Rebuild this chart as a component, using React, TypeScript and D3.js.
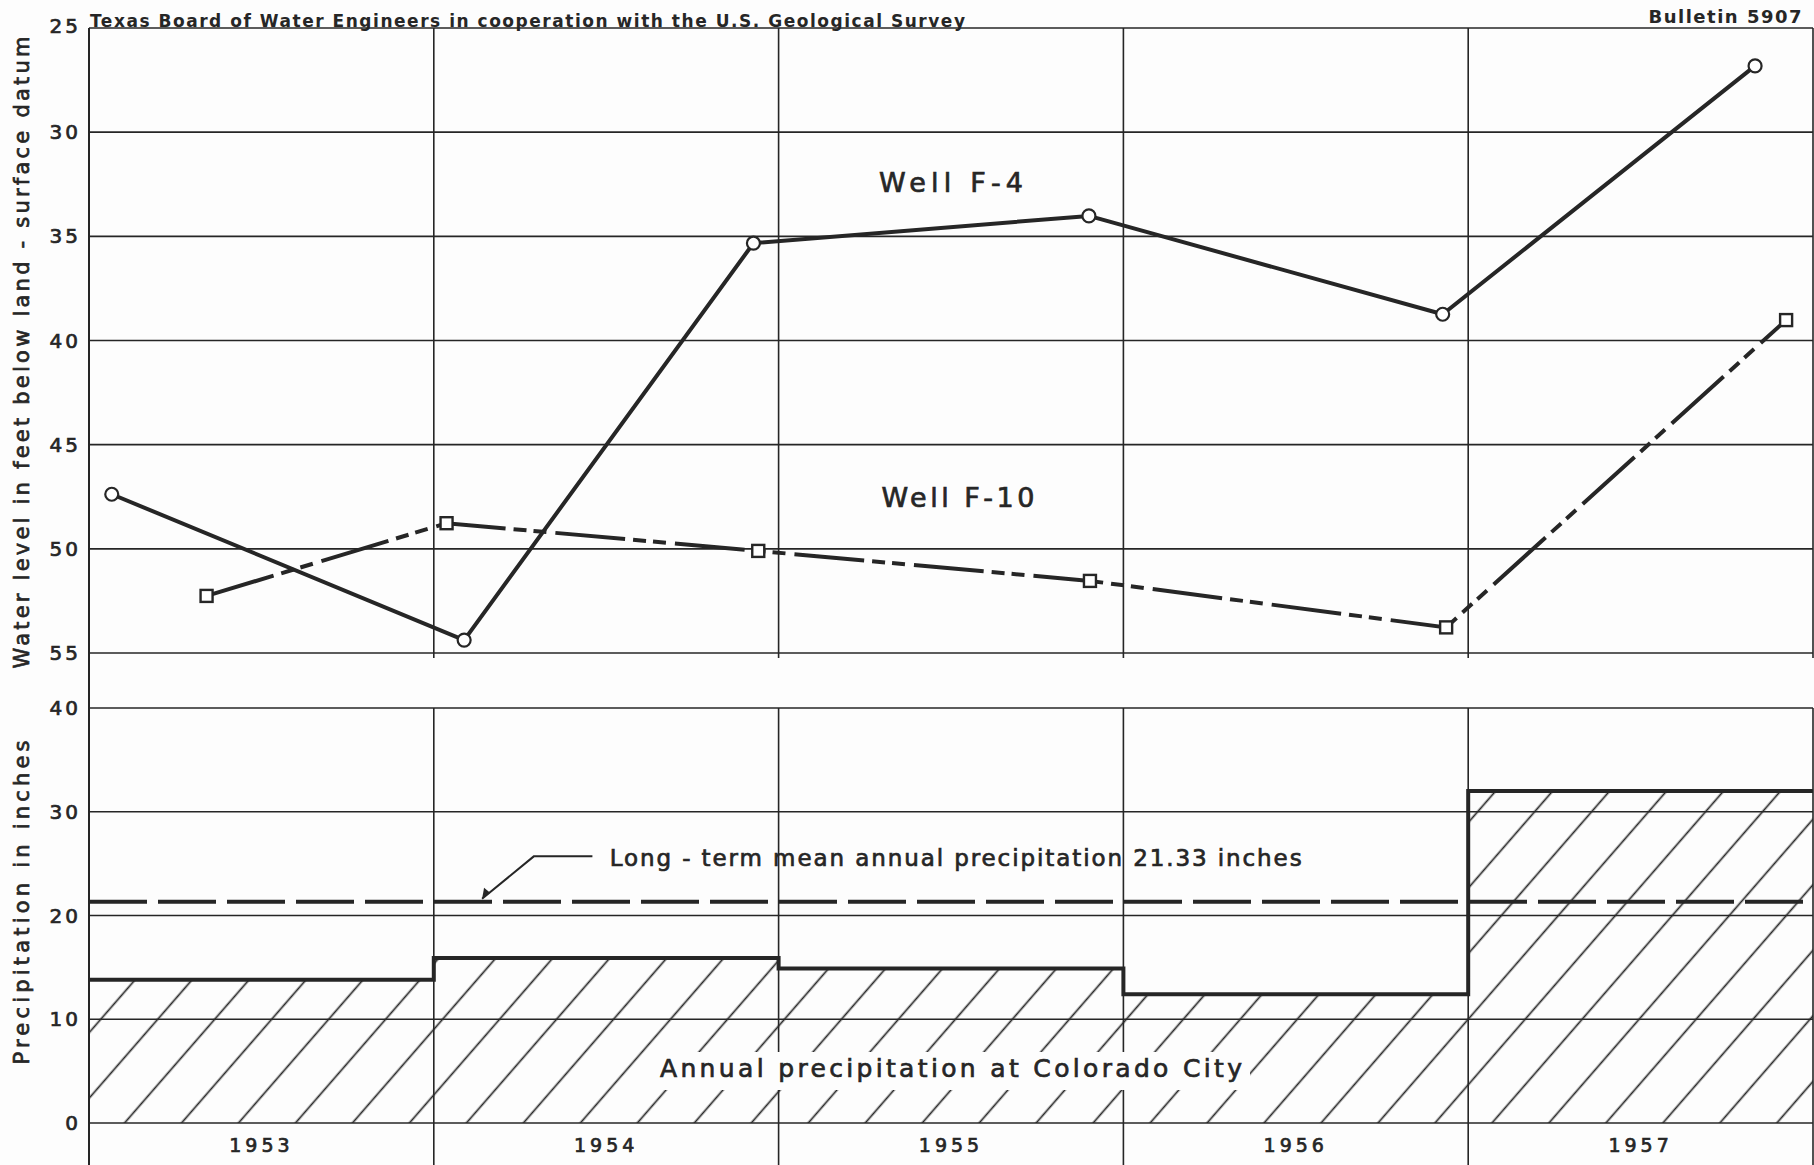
import * as d3 from "d3"

// Well hydrographs (depth to water, ft) and annual precipitation, Colorado City
const years = [1953, 1954, 1955, 1956, 1957]
const f4Dates = [1953.066, 1954.088, 1954.927, 1955.9, 1956.926, 1957.832]
const f4Levels = [47.38, 54.38, 35.33, 34.02, 38.74, 26.82]
const f10Dates = [1953.341, 1954.037, 1954.941, 1955.903, 1956.936, 1957.922]
const f10Levels = [52.26, 48.77, 50.1, 51.54, 53.77, 39.02]
const precip = [13.8, 15.9, 14.9, 12.4, 32.0]
const meanPrecip = 21.33
const levelTicks = [25, 30, 35, 40, 45, 50, 55]
const precipTicks = [0, 10, 20, 30, 40]

const W = 1814
const H = 1165
const font = "'DejaVu Sans', sans-serif"
const ink = "#262626"
const paper = "#fdfdfd"

// lettering is drawn a bit heavier than the plain font weight
const letter = { fontFamily: font, fill: ink, stroke: ink, strokeWidth: 0.7 }

const App = () => {
  const x = d3.scaleLinear().domain([1953, 1958]).range([89, 1813])
  const yTop = d3.scaleLinear().domain([25, 55]).range([28, 653])
  const yBot = d3.scaleLinear().domain([0, 40]).range([1123, 708])

  const f4 = f4Dates.map((d, i) => [d, f4Levels[i]] as [number, number])
  const f10 = f10Dates.map((d, i) => [d, f10Levels[i]] as [number, number])
  const wellLine = d3
    .line<[number, number]>()
    .x((d) => x(d[0]))
    .y((d) => yTop(d[1]))

  const steps = [...years.map((yr, i) => [yr, precip[i]]), [1958, precip[precip.length - 1]]] as [number, number][]
  const stepArea = d3
    .area<[number, number]>()
    .x((d) => x(d[0]))
    .y0(yBot(0))
    .y1((d) => yBot(d[1]))
    .curve(d3.curveStepAfter)
  const stepLine = d3
    .line<[number, number]>()
    .x((d) => x(d[0]))
    .y((d) => yBot(d[1]))
    .curve(d3.curveStepAfter)

  const boundaries = [...years, 1958]
  const meanY = yBot(meanPrecip)

  // leader for the mean line label
  const tipX = x(1954.14)
  const tipY = meanY - 3
  const elbowX = x(1954.29)
  const elbowY = yBot(25.7)

  return (
    <svg
      width={W}
      height={H}
      viewBox={`0 0 ${W} ${H}`}
      style={{ position: "absolute", left: 0, top: 0, background: paper }}
    >
      <defs>
        <pattern
          id="hatch"
          patternUnits="userSpaceOnUse"
          width={43}
          height={40}
          patternTransform="translate(46.7,0) rotate(41)"
        >
          <line x1={21.5} y1={-2} x2={21.5} y2={42} stroke={ink} strokeWidth={1.7} />
        </pattern>
      </defs>

      {/* header */}
      <text x={90} y={27} fontFamily={font} fontSize={17} fontWeight={600} fill={ink} textLength={875}>
        Texas Board of Water Engineers in cooperation with the U.S. Geological Survey
      </text>
      <text x={1803} y={23} fontFamily={font} fontSize={18} fontWeight={700} fill={ink} textAnchor="end" letterSpacing={1.5}>
        Bulletin 5907
      </text>

      {/* top panel grid */}
      {levelTicks.map((t) => (
        <line key={`lt${t}`} x1={x(1953)} x2={x(1958)} y1={yTop(t)} y2={yTop(t)} stroke={ink} strokeWidth={1.6} />
      ))}
      {boundaries.map((b) => (
        <line key={`lv${b}`} x1={x(b)} x2={x(b)} y1={yTop(25)} y2={yTop(55) + 5} stroke={ink} strokeWidth={1.6} />
      ))}
      {levelTicks.map((t) => (
        <text
          key={`ll${t}`}
          x={81}
          y={t === 25 ? yTop(t) + 5 : yTop(t) + 7}
          {...letter}
          fontSize={20}
          textAnchor="end"
          letterSpacing={3}
        >
          {t}
        </text>
      ))}

      {/* bottom panel grid */}
      {precipTicks.map((t) => (
        <line key={`pt${t}`} x1={x(1953)} x2={x(1958)} y1={yBot(t)} y2={yBot(t)} stroke={ink} strokeWidth={1.6} />
      ))}
      {precipTicks.map((t) => (
        <text key={`pl${t}`} x={81} y={yBot(t) + 7} {...letter} fontSize={20} textAnchor="end" letterSpacing={3}>
          {t}
        </text>
      ))}

      {/* precipitation bars */}
      <path d={stepArea(steps) ?? ""} fill="url(#hatch)" />
      {boundaries.map((b) => (
        <line key={`pv${b}`} x1={x(b)} x2={x(b)} y1={yBot(40)} y2={H} stroke={ink} strokeWidth={1.6} />
      ))}
      <line x1={x(1953)} x2={x(1953)} y1={yTop(25)} y2={H} stroke={ink} strokeWidth={2} />
      <path d={stepLine(steps) ?? ""} fill="none" stroke={ink} strokeWidth={4} />

      {/* mean annual precipitation */}
      <line
        x1={x(1953)}
        x2={x(1958)}
        y1={meanY}
        y2={meanY}
        stroke={ink}
        strokeWidth={4}
        strokeDasharray="58,11"
      />
      <polyline
        points={`${x(1954.46)},${elbowY} ${elbowX},${elbowY} ${tipX},${tipY}`}
        fill="none"
        stroke={ink}
        strokeWidth={2}
      />
      <path d={`M${tipX},${tipY} l2,-11 l6,5 z`} fill={ink} />
      <text x={x(1954.51)} y={yBot(24.8)} {...letter} fontSize={23} textLength={692}>
        Long - term mean annual precipitation 21.33 inches
      </text>

      {/* area label */}
      <rect x={648} y={1052} width={602} height={38} fill={paper} />
      <text x={x(1955.5)} y={yBot(4.45)} {...letter} fontSize={25} textAnchor="middle" textLength={582}>
        Annual precipitation at Colorado City
      </text>

      {/* year labels */}
      {years.map((yr) => (
        <text key={`y${yr}`} x={x(yr + 0.5)} y={1152} {...letter} fontSize={19} textAnchor="middle" letterSpacing={4}>
          {yr}
        </text>
      ))}

      {/* wells */}
      <path d={wellLine(f4) ?? ""} fill="none" stroke={ink} strokeWidth={4} strokeLinejoin="round" />
      <path d={wellLine(f10) ?? ""} fill="none" stroke={ink} strokeWidth={4} strokeDasharray="70,8,13,7,13,9" />
      {f4.map((d, i) => (
        <circle key={`c${i}`} cx={x(d[0])} cy={yTop(d[1])} r={6.5} fill="#fff" stroke={ink} strokeWidth={2.2} />
      ))}
      {f10.map((d, i) => (
        <rect key={`s${i}`} x={x(d[0]) - 6} y={yTop(d[1]) - 6} width={12} height={12} fill="#fff" stroke={ink} strokeWidth={2.4} />
      ))}
      <text x={x(1955.5)} y={yTop(32.85)} {...letter} fontSize={27} textAnchor="middle" textLength={144}>
        Well F-4
      </text>
      <text x={x(1955.52)} y={yTop(48)} {...letter} fontSize={27} textAnchor="middle" textLength={153}>
        Well F-10
      </text>

      {/* axis titles */}
      <text
        transform={`translate(29,${(yTop(25) + yTop(55)) / 2 + 12}) rotate(-90)`}
        {...letter}
        fontSize={21}
        textAnchor="middle"
        textLength={632}
      >
        Water level in feet below land - surface datum
      </text>
      <text
        transform={`translate(29,${(yBot(0) + yBot(40)) / 2 - 13}) rotate(-90)`}
        {...letter}
        fontSize={21}
        textAnchor="middle"
        textLength={324}
      >
        Precipitation in inches
      </text>
    </svg>
  )
}

export default App
